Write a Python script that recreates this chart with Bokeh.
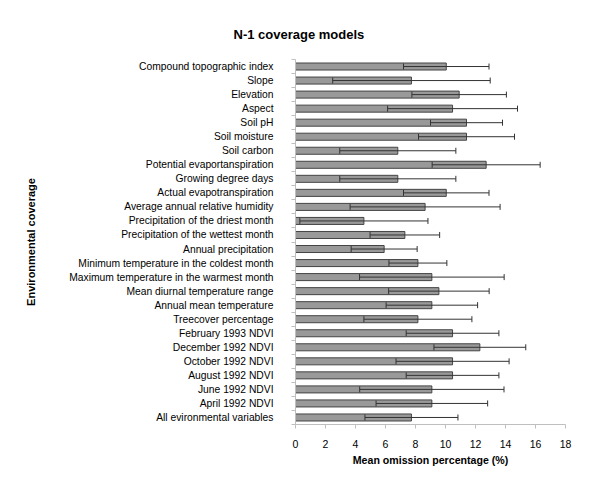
from bokeh.plotting import figure
from bokeh.models import ColumnDataSource, Whisker, TeeHead, Range1d, FixedTicker
from bokeh.embed import file_html
from bokeh.resources import INLINE

categories = [
    "Compound topographic index",
    "Slope",
    "Elevation",
    "Aspect",
    "Soil pH",
    "Soil moisture",
    "Soil carbon",
    "Potential evaportanspiration",
    "Growing degree days",
    "Actual evapotranspiration",
    "Average annual relative humidity",
    "Precipitation of the driest month",
    "Precipitation of the wettest month",
    "Annual precipitation",
    "Minimum temperature in the coldest month",
    "Maximum temperature in the warmest month",
    "Mean diurnal temperature range",
    "Annual mean temperature",
    "Treecover percentage",
    "February 1993 NDVI",
    "December 1992 NDVI",
    "October 1992 NDVI",
    "August 1992 NDVI",
    "June 1992 NDVI",
    "April 1992 NDVI",
    "All evironmental variables",
]
mean_omission = [10.05, 7.73, 10.91, 10.47, 11.40, 11.40, 6.82, 12.71, 6.82, 10.05,
                 8.64, 4.56, 7.29, 5.91, 8.16, 9.09, 9.56, 9.09, 8.16, 10.47,
                 12.29, 10.47, 10.47, 9.09, 9.09, 7.73]
error = [2.85, 5.25, 3.15, 4.33, 2.40, 3.20, 3.87, 3.60, 3.87, 2.85,
         5.00, 4.27, 2.32, 2.20, 1.93, 4.82, 3.35, 3.05, 3.60, 3.09,
         3.06, 3.77, 3.09, 4.81, 3.72, 3.10]
x_ticks = [0, 2, 4, 6, 8, 10, 12, 14, 16, 18]
title_text = "N-1 coverage models"

n = len(categories)
ypos = list(range(n))
src = ColumnDataSource(dict(
    y=ypos,
    mean=mean_omission,
    lower=[m - e for m, e in zip(mean_omission, error)],
    upper=[m + e for m, e in zip(mean_omission, error)],
))

FONT = "Liberation Sans"

p = figure(width=600, height=479, output_backend="svg", toolbar_location=None,
           x_range=Range1d(0, 18), y_range=Range1d(n - 0.5, -0.5),
           min_border_left=295, min_border_right=35, min_border_top=59,
           min_border_bottom=55)
p.title.text = title_text + "\n "
p.title.align = "left"
p.title.vertical_align = "bottom"
p.title.offset = -62
p.title.standoff = 10
p.title.text_line_height = 0.85
p.title.text_font = FONT
p.title.text_font_size = "13px"
p.title.text_font_style = "bold"
p.title.text_color = "#000000"

p.hbar(y="y", right="mean", left=0, height=0.5, source=src,
       fill_color="#999999", line_color="#444444", line_width=1)

w = Whisker(source=src, base="y", lower="lower", upper="upper", dimension="width",
            line_color="#333333", line_width=1, level="overlay",
            lower_head=TeeHead(size=6, line_color="#333333", line_width=1),
            upper_head=TeeHead(size=6, line_color="#333333", line_width=1))
p.add_layout(w)

p.grid.visible = False
p.outline_line_color = None

axis_gray = "#bfbfbf"
# x axis
xa = p.xaxis[0]
xa.ticker = FixedTicker(ticks=x_ticks)
xa.axis_line_color = axis_gray
xa.major_tick_line_color = axis_gray
xa.major_tick_out = 4
xa.major_tick_in = 0
xa.minor_tick_line_color = None
xa.major_label_text_font = FONT
xa.major_label_text_font_size = "10.5px"
xa.major_label_text_color = "#000000"
xa.major_label_standoff = 11
xa.axis_label = "Mean omission percentage (%)"
xa.axis_label_text_font = FONT
xa.axis_label_text_font_size = "10.6px"
xa.axis_label_text_font_style = "bold"
xa.axis_label_text_color = "#000000"
xa.axis_label_standoff = 3

# y axis
ya = p.yaxis[0]
ya.ticker = FixedTicker(ticks=ypos, minor_ticks=[i - 0.5 for i in range(n + 1)])
ya.major_label_overrides = {i: c for i, c in zip(ypos, categories)}
ya.axis_line_color = axis_gray
ya.major_tick_line_color = None
ya.major_tick_out = 0
ya.major_tick_in = 0
ya.minor_tick_line_color = axis_gray
ya.minor_tick_out = 4
ya.minor_tick_in = 0
ya.major_label_text_font = FONT
ya.major_label_text_font_size = "10.3px"
ya.major_label_text_color = "#000000"
ya.major_label_standoff = 18
ya.axis_label = "Environmental coverage"
ya.axis_label_text_font = FONT
ya.axis_label_text_font_size = "11px"
ya.axis_label_text_font_style = "bold"
ya.axis_label_text_color = "#000000"
ya.axis_label_standoff = 29

open("out.html", "w").write(file_html(p, INLINE))
